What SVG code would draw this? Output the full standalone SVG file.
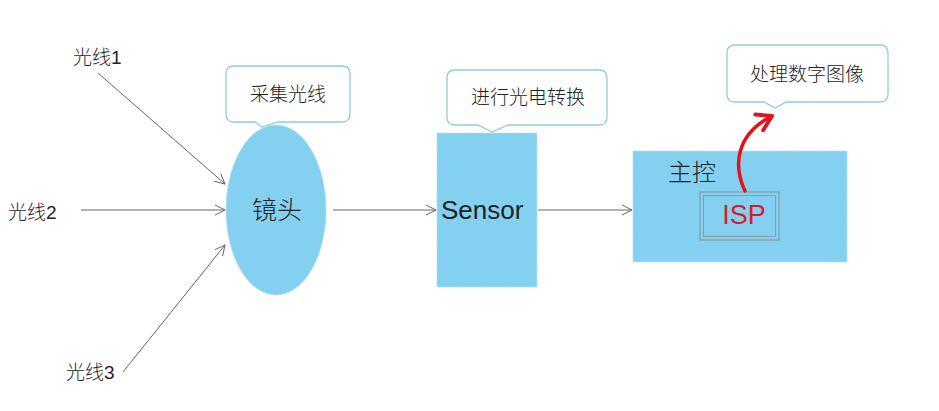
<svg xmlns="http://www.w3.org/2000/svg" width="939" height="411" viewBox="0 0 939 411">
<defs>
<style>
.t{font-family:"Liberation Sans","Noto Sans CJK SC",sans-serif;fill:#222;}
.cj{font-family:"Noto Sans CJK SC","Liberation Sans",sans-serif;fill:#222;font-weight:300;}
.conn{stroke:#666;stroke-width:1;fill:none;marker-end:url(#ah);}
.shape{fill:#84D0F0;stroke:#b8dff0;stroke-width:1;stroke-dasharray:2 1;}
.callout{fill:#fff;stroke:#8ccde3;stroke-width:1.3;}
</style>
<marker id="ah" viewBox="0 0 12 12" refX="11" refY="6" markerWidth="12" markerHeight="12" markerUnits="userSpaceOnUse" orient="auto">
<path d="M1,1 L11,6 L1,11" fill="none" stroke="#666" stroke-width="1"/>
</marker>
<marker id="rah" viewBox="0 0 20 20" refX="17" refY="10" markerWidth="22" markerHeight="22" markerUnits="userSpaceOnUse" orient="auto">
<path d="M4,2 L17,10 L4,18" fill="none" stroke="#e0141c" stroke-width="3.5" stroke-linecap="round" stroke-linejoin="round"/>
</marker>
</defs>
<rect width="939" height="411" fill="#fff"/>

<g id="connectors">
<line class="conn" x1="98" y1="73" x2="225" y2="184"/>
<line class="conn" x1="81" y1="210" x2="225" y2="210"/>
<line class="conn" x1="123" y1="372" x2="225" y2="245"/>
<line class="conn" x1="333" y1="210" x2="436" y2="210"/>
<line class="conn" x1="538" y1="210" x2="632" y2="210"/>
</g>

<g id="ray1"><text class="cj" x="73" y="64" font-size="19">光线<tspan class="t">1</tspan></text></g>
<g id="ray2"><text class="cj" x="8" y="219" font-size="19">光线<tspan class="t">2</tspan></text></g>
<g id="ray3"><text class="cj" x="66" y="379" font-size="19">光线<tspan class="t">3</tspan></text></g>

<g id="lens">
<ellipse class="shape" cx="276" cy="210" rx="50" ry="85"/>
<text class="cj" x="277" y="219" font-size="25" text-anchor="middle">镜头</text>
</g>

<g id="callout-lens">
<path class="callout" d="M234,66 H342 Q350,66 350,74 V114 Q350,122 342,122 H278 L262,127 L255,122 H234 Q226,122 226,114 V74 Q226,66 234,66 Z"/>
<text class="cj" x="288" y="101" font-size="19" text-anchor="middle">采集光线</text>
</g>

<g id="sensor">
<rect class="shape" x="437" y="133" width="100" height="154"/>
<text class="t" x="441" y="219" font-size="26">Sensor</text>
</g>

<g id="callout-sensor">
<path class="callout" d="M455,70 H599 Q607,70 607,78 V117 Q607,125 599,125 H508 L492,132 L478,125 H455 Q447,125 447,117 V78 Q447,70 455,70 Z"/>
<text class="cj" x="528" y="104" font-size="19" text-anchor="middle">进行光电转换</text>
</g>

<g id="main">
<rect class="shape" x="633" y="151" width="214" height="111"/>
<text class="cj" x="668" y="181" font-size="24">主控</text>
</g>

<g id="isp">
<rect x="700" y="192" width="79" height="48" fill="none" stroke="#8a9aa6" stroke-width="1.2"/>
<rect x="703.5" y="195.5" width="72" height="41" fill="none" stroke="#8a9aa6" stroke-width="1"/>
<text class="t" x="744" y="224" font-size="27" style="fill:#d81c26" text-anchor="middle">ISP</text>
</g>

<g id="callout-isp">
<path class="callout" d="M735,45 H880 Q888,45 888,53 V94 Q888,102 880,102 H786 L775,108 L764,102 H735 Q727,102 727,94 V53 Q727,45 735,45 Z"/>
<text class="cj" x="807" y="81" font-size="19" text-anchor="middle">处理数字图像</text>
</g>

<g id="isp-arrow">
<path d="M745,191 C734,168 734,135 772,116" fill="none" stroke="#e0141c" stroke-width="3.5" stroke-linecap="round" marker-end="url(#rah)"/>
</g>
</svg>
